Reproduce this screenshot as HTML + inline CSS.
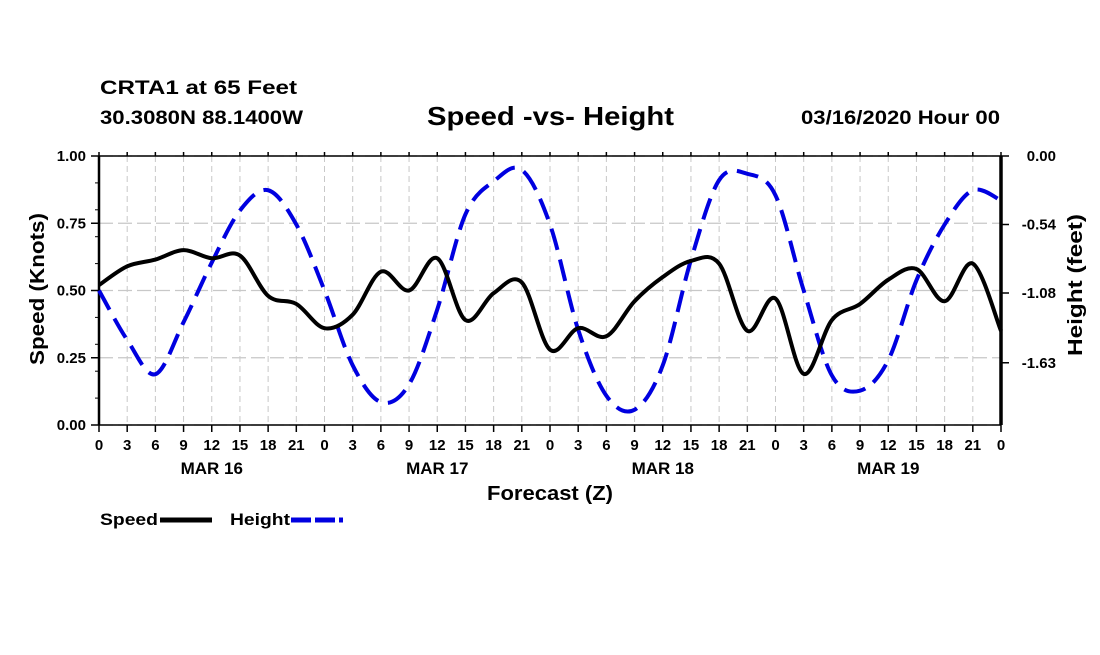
<!DOCTYPE html>
<html><head><meta charset="utf-8"><style>
body{margin:0;background:#fff;width:1100px;height:650px;overflow:hidden}
svg{font-family:"Liberation Sans",sans-serif;font-weight:bold}
</style></head><body>
<svg id="chart" width="1100" height="650" viewBox="0 0 1100 650">
<text x="100" y="94" font-size="19" textLength="197" lengthAdjust="spacingAndGlyphs">CRTA1 at 65 Feet</text>
<text x="100" y="124" font-size="19" textLength="203" lengthAdjust="spacingAndGlyphs">30.3080N 88.1400W</text>
<text x="427" y="125" font-size="26" textLength="247" lengthAdjust="spacingAndGlyphs">Speed -vs- Height</text>
<text x="801" y="124" font-size="19" textLength="199" lengthAdjust="spacingAndGlyphs">03/16/2020 Hour 00</text>
<g id="grid"></g><g id="axes"></g><g id="series"></g>
<text x="487" y="500" font-size="20" textLength="126" lengthAdjust="spacingAndGlyphs">Forecast (Z)</text>
<text transform="translate(44,289) rotate(-90)" font-size="20" text-anchor="middle" textLength="152" lengthAdjust="spacingAndGlyphs">Speed (Knots)</text>
<text transform="translate(1082,285) rotate(-90)" font-size="20" text-anchor="middle" textLength="142" lengthAdjust="spacingAndGlyphs">Height (feet)</text>
<g>
<text x="100" y="525" font-size="17" textLength="58" lengthAdjust="spacingAndGlyphs">Speed</text>
<line x1="160" y1="520" x2="212" y2="520" stroke="#000" stroke-width="5"/>
<text x="230" y="525" font-size="17" textLength="60" lengthAdjust="spacingAndGlyphs">Height</text>
<line x1="291" y1="520" x2="343" y2="520" stroke="#0000e0" stroke-width="5" stroke-dasharray="20 4"/>
</g>
</svg>
<script>
const hours=[0,3,6,9,12,15,18,21,24,27,30,33,36,39,42,45,48,51,54,57,60,63,66,69,72,75,78,81,84,87,90,93,96];
const speed=[0.52,0.59,0.615,0.65,0.62,0.63,0.48,0.45,0.36,0.41,0.57,0.50,0.62,0.39,0.49,0.53,0.28,0.36,0.33,0.46,0.55,0.61,0.60,0.35,0.47,0.19,0.39,0.45,0.54,0.58,0.46,0.60,0.35];
const height=[-1.06,-1.45,-1.72,-1.31,-0.84,-0.43,-0.27,-0.54,-1.06,-1.65,-1.94,-1.80,-1.21,-0.46,-0.20,-0.11,-0.54,-1.37,-1.89,-2.0,-1.65,-0.82,-0.19,-0.14,-0.31,-1.06,-1.73,-1.85,-1.61,-0.98,-0.54,-0.27,-0.35];
const speedTicks=["0.00","0.25","0.50","0.75","1.00"];
const heightTicks=["0.00","-0.54","-1.08","-1.63"];
const dayLabels=["MAR 16","MAR 17","MAR 18","MAR 19"];
const X0=99,X1=1001,Y0=156,Y1=425;
const xs=h=>X0+(X1-X0)*h/96;
const ys=s=>Y1-(Y1-Y0)*s;
const yh=h=>Y0+(-h)/0.54*68.5;
const NS="http://www.w3.org/2000/svg";
function mk(tag,attrs,parent){const e=document.createElementNS(NS,tag);for(const k in attrs)e.setAttribute(k,attrs[k]);document.getElementById(parent).appendChild(e);return e;}
for(let h=0;h<=96;h+=3){
 const g=mk('line',{x1:xs(h),x2:xs(h),y1:Y0,y2:Y1,stroke:'#c8c8c8','stroke-width':1,'stroke-dasharray':'6 4'},'grid');
 
 
 const t=mk('line',{x1:xs(h),x2:xs(h),y1:Y1,y2:Y1+7,stroke:'#000','stroke-width':1.5},'axes');
 
 
 const t2=mk('line',{x1:xs(h),x2:xs(h),y1:Y0-4,y2:Y0,stroke:'#000','stroke-width':1.5},'axes');
 
 
 const l=mk('text',{x:xs(h),y:450,'font-size':15,'text-anchor':'middle'},'axes');
 l.textContent=String(h%24);
 
 
}
dayLabels.forEach((d,i)=>{const t=mk('text',{x:xs(i*24+12),y:474,'font-size':17,'text-anchor':'middle'},'axes');t.textContent=d;
 
 });
speedTicks.forEach(v=>{const s=parseFloat(v);const y=ys(s);
 const g=mk('line',{x1:X0,x2:X1,y1:y,y2:y,stroke:'#c8c8c8','stroke-width':1.2,'stroke-dasharray':'14 5'},'grid');
 
 
 const t=mk('line',{x1:X0-8,x2:X0,y1:y,y2:y,stroke:'#000','stroke-width':1.5},'axes');
 
 
 const l=mk('text',{x:86,y:y+5,'font-size':15,'text-anchor':'end'},'axes');l.textContent=v;
 
 });
for(let s=0.1;s<1;s+=0.1){const t=mk('line',{x1:X0-4,x2:X0,y1:ys(s),y2:ys(s),stroke:'#000','stroke-width':1},'axes');
 
 }
heightTicks.forEach(v=>{const y=yh(parseFloat(v));
 const t=mk('line',{x1:X1,x2:X1+8,y1:y,y2:y,stroke:'#000','stroke-width':1.5},'axes');
 
 
 const l=mk('text',{x:1056,y:y+5,'font-size':15,'text-anchor':'end'},'axes');l.textContent=v;
 
 });
[[X0,Y0,X1,Y0,1.5],[X0,Y1,X1,Y1,1.5],[X0,Y0,X0,Y1,2.5],[X1,Y0,X1,Y1,3.5]].forEach(a=>{
 const l=mk('line',{x1:a[0],y1:a[1],x2:a[2],y2:a[3],stroke:'#000','stroke-width':a[4]},'axes');
 
 });
function path(vals,fy){const p=hours.map((h,i)=>[xs(h),fy(vals[i])]);let d='M'+p[0][0]+','+p[0][1];
 for(let i=0;i<p.length-1;i++){const a=p[Math.max(0,i-1)],b=p[i],c=p[i+1],e=p[Math.min(p.length-1,i+2)];
 d+=` C${b[0]+(c[0]-a[0])/6},${b[1]+(c[1]-a[1])/6} ${c[0]-(e[0]-b[0])/6},${c[1]-(e[1]-b[1])/6} ${c[0]},${c[1]}`;}return d;}
const hp=mk('path',{d:path(height,yh),fill:'none',stroke:'#0000e0','stroke-width':4,'stroke-dasharray':'22 10'},'series');


const sp=mk('path',{d:path(speed,ys),fill:'none',stroke:'#000','stroke-width':4},'series');


</script>
</body></html>
